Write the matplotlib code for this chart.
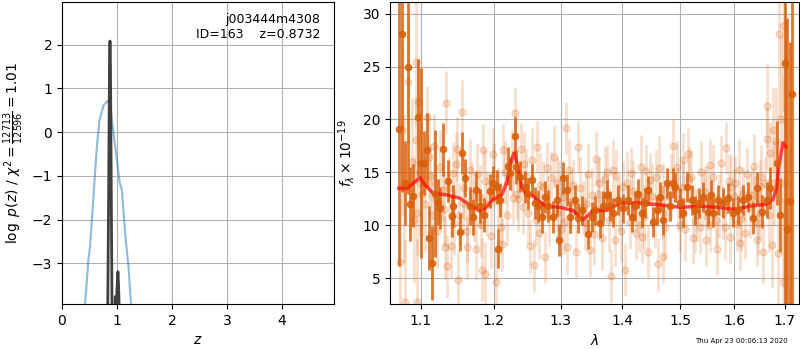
import numpy as np
import matplotlib
matplotlib.use('Agg')
import matplotlib.pyplot as plt
from matplotlib.ticker import NullLocator, FixedLocator

# p(z) panel
z_chi2 = [0.38, 0.42, 0.48, 0.51, 0.572, 0.634, 0.682, 0.755, 0.828, 0.877,
          0.938, 1.0, 1.048, 1.09, 1.15, 1.21, 1.256, 1.29]
logp_chi2 = [-4.8, -3.93, -2.92, -2.62, -1.48, -0.34, 0.27, 0.61, 0.71, 0.61,
             -0.03, -0.64, -1.14, -1.33, -2.32, -3.08, -3.93, -4.8]

z_pz = [0.78, 0.83, 0.852, 0.864, 0.8732, 0.882, 0.894, 0.92, 0.955, 0.97,
        0.985, 1.0, 1.018, 1.03, 1.05, 1.08]
logp_pz = [-6.0, -4.5, -0.8, 1.5, 2.08, 1.5, -0.8, -6.0, -4.5, -3.76,
           -4.2, -3.6, -3.19, -3.5, -4.6, -6.0]

# spectrum panel: binned points (dark)
wave_a = [1.071, 1.079, 1.083, 1.086, 1.090, 1.096, 1.104, 1.108, 1.111, 1.115,
          1.123, 1.125, 1.129, 1.136, 1.141, 1.143, 1.153, 1.155, 1.160, 1.166,
          1.171, 1.175, 1.180, 1.186, 1.195, 1.199, 1.205, 1.206, 1.209, 1.221,
          1.2235, 1.231, 1.232, 1.238, 1.246, 1.250, 1.256, 1.261, 1.265, 1.271,
          1.276, 1.280, 1.288, 1.294, 1.297, 1.304, 1.310, 1.315, 1.322, 1.327,
          1.334, 1.343, 1.350, 1.355, 1.363, 1.368, 1.374, 1.380, 1.384, 1.392,
          1.401, 1.409, 1.416, 1.421, 1.426, 1.433, 1.438, 1.443, 1.452, 1.459,
          1.464, 1.469, 1.476, 1.482, 1.487, 1.491, 1.499, 1.505, 1.512, 1.521,
          1.527, 1.534, 1.541, 1.551, 1.556, 1.560, 1.569, 1.579, 1.588, 1.598,
          1.607, 1.617, 1.627, 1.636, 1.644, 1.654, 1.664, 1.670, 1.684, 1.690,
          1.700, 1.704, 1.710, 1.7145, 1.075, 1.100, 1.118]
flux_a = [19.1, 14.0, 25.0, 12.0, 12.8, 20.2, 15.9, 17.1, 8.8, 6.4,
          12.2, 11.6, 17.2, 14.2, 10.9, 11.8, 9.4, 16.8, 14.5, 11.8,
          10.8, 13.3, 11.8, 11.0, 13.2, 14.0, 13.6, 7.8, 12.4, 15.6,
          14.9, 18.4, 15.5, 14.6, 13.6, 13.0, 14.3, 12.1, 11.8, 10.8,
          12.7, 11.8, 10.8, 12.4, 8.6, 14.5, 13.3, 10.8, 12.4, 10.7,
          11.4, 9.2, 10.8, 11.4, 10.2, 11.8, 12.9, 11.8, 11.2, 12.4,
          11.6, 12.4, 10.8, 11.8, 13.0, 11.2, 12.1, 13.3, 10.3, 11.4,
          12.7, 10.5, 14.0, 11.8, 14.0, 13.6, 12.1, 11.2, 13.6, 12.4,
          11.4, 12.1, 12.7, 11.3, 12.9, 11.2, 12.4, 12.1, 12.6, 11.2,
          11.4, 12.4, 12.7, 10.7, 13.5, 11.3, 12.4, 13.5, 15.9, 11.0,
          25.3, 9.6, 12.3, 22.4, 28.1, 15.9, 13.0]
err_a = [13.0, 4.0, 12.0, 3.5, 3.0, 5.5, 3.0, 3.5, 3.0, 3.5,
         2.2, 2.0, 2.5, 2.0, 2.0, 2.0, 1.8, 2.0, 1.8, 1.8,
         1.7, 1.7, 1.6, 1.6, 1.6, 1.6, 1.6, 1.8, 1.6, 1.8,
         1.6, 1.8, 1.6, 1.5, 1.5, 1.5, 1.5, 1.5, 1.5, 1.5,
         1.5, 1.5, 1.5, 1.5, 1.5, 1.5, 1.5, 1.5, 1.4, 1.4,
         1.4, 1.4, 1.4, 1.4, 1.4, 1.4, 1.4, 1.4, 1.4, 1.4,
         1.4, 1.4, 1.4, 1.4, 1.4, 1.4, 1.4, 1.4, 1.4, 1.4,
         1.4, 1.4, 1.4, 1.4, 1.4, 1.4, 1.4, 1.4, 1.4, 1.4,
         1.4, 1.4, 1.4, 1.4, 1.4, 1.4, 1.4, 1.4, 1.4, 1.4,
         1.4, 1.4, 1.4, 1.5, 1.5, 1.6, 1.7, 2.0, 4.0, 3.5,
         25.0, 20.0, 15.0, 20.0, 15.0, 9.0, 6.0]

# spectrum panel: unbinned points (light)
wave_b = [1.073, 1.083, 1.093, 1.079, 1.095, 1.096, 1.108, 1.093, 1.117, 1.133,
          1.135, 1.132, 1.150, 1.155, 1.149, 1.162, 1.175, 1.184, 1.188, 1.203,
          1.185, 1.199, 1.212, 1.210, 1.231, 1.213, 1.228, 1.240, 1.253, 1.259,
          1.264, 1.267, 1.276, 1.279, 1.294, 1.310, 1.308, 1.325, 1.327, 1.338,
          1.346, 1.356, 1.374, 1.381, 1.387, 1.390, 1.404, 1.412, 1.423, 1.434,
          1.443, 1.447, 1.457, 1.461, 1.469, 1.487, 1.494, 1.505, 1.514, 1.523,
          1.536, 1.547, 1.554, 1.567, 1.576, 1.584, 1.592, 1.601, 1.611, 1.621,
          1.634, 1.644, 1.656, 1.664, 1.670, 1.676, 1.665, 1.688, 1.696, 1.697,
          1.686, 1.674, 1.273, 1.304, 1.335, 1.368, 1.401, 1.434, 1.469, 1.505,
          1.541, 1.579, 1.617, 1.650, 1.129, 1.157, 1.180, 1.095, 1.112, 1.143,
          1.243, 1.234, 1.294, 1.285, 1.320, 1.350, 1.395, 1.415, 1.440, 1.455,
          1.478, 1.500, 1.520, 1.545, 1.565, 1.590, 1.605, 1.625, 1.640, 1.660,
          1.188, 1.170, 1.145, 1.120, 1.102, 1.248, 1.262, 1.300, 1.362, 1.428,
          1.470, 1.530, 1.555, 1.600, 1.650,
          1.075, 1.078, 1.088, 1.091, 1.099, 1.106, 1.110, 1.114, 1.118, 1.122,
          1.126, 1.131, 1.138, 1.140, 1.147, 1.151, 1.158, 1.163, 1.166, 1.172,
          1.177, 1.182, 1.191, 1.196, 1.201, 1.206, 1.216, 1.219, 1.226, 1.236,
          1.245, 1.251, 1.256, 1.269, 1.282, 1.290, 1.297, 1.306, 1.313, 1.317,
          1.330, 1.341, 1.344, 1.353, 1.359, 1.366, 1.371, 1.378, 1.384, 1.398,
          1.407, 1.418, 1.431, 1.437, 1.450, 1.462, 1.474, 1.484, 1.497, 1.509,
          1.516, 1.527, 1.538, 1.550, 1.560, 1.572, 1.583, 1.595, 1.609, 1.614,
          1.631, 1.638, 1.647, 1.653, 1.668, 1.679, 1.682, 1.692, 1.699]
flux_b = [6.5, 23.5, 25.4, 2.7, 2.7, 21.7, 20.2, 18.1, 17.5, 21.6,
          6.1, 7.9, 4.8, 20.7, 17.2, 7.9, 7.8, 5.8, 5.4, 4.6,
          17.1, 16.7, 8.2, 9.8, 20.6, 17.1, 12.6, 17.2, 8.0, 6.2,
          17.4, 9.3, 7.0, 15.4, 14.0, 7.9, 19.2, 7.5, 17.4, 10.2,
          7.7, 16.3, 15.0, 5.2, 8.6, 14.7, 5.8, 10.3, 9.3, 8.9,
          7.5, 14.3, 14.6, 6.3, 7.0, 17.5, 15.5, 16.2, 16.7, 8.8,
          9.8, 8.6, 15.7, 7.8, 15.9, 17.3, 8.9, 14.0, 8.3, 9.3,
          12.9, 8.6, 7.5, 18.2, 16.8, 19.0, 21.3, 28.1, 28.8, 4.6,
          7.4, 8.1, 13.6, 12.7, 11.7, 12.4, 13.6, 12.4, 11.2, 13.6,
          12.4, 11.2, 13.0, 11.2, 13.3, 12.1, 12.7, 11.2, 14.7, 14.9,
          11.7, 13.0, 11.2, 14.5, 13.8, 12.9, 12.0, 14.9, 15.1, 10.4,
          12.8, 10.0, 14.6, 13.1, 10.5, 14.2, 10.1, 14.8, 12.2, 14.0,
          14.2, 13.0, 10.2, 12.5, 13.0, 14.7, 10.5, 9.6, 14.0, 10.0,
          13.4, 11.0, 10.0, 12.8, 13.7,
          19.0, 13.5, 16.0, 10.5, 14.0, 12.0, 16.5, 11.0, 14.0, 9.5,
          15.5, 11.5, 13.5, 8.0, 15.8, 11.0, 13.5, 9.5, 15.2, 11.5,
          14.8, 10.0, 12.0, 9.0, 14.8, 12.5, 15.0, 11.0, 16.0, 12.5,
          15.8, 11.2, 16.2, 13.8, 11.0, 16.5, 13.2, 10.3, 15.2, 12.2,
          13.5, 12.0, 14.8, 9.2, 13.0, 8.8, 14.4, 10.5, 15.2, 9.5,
          14.0, 13.2, 15.5, 10.8, 12.8, 15.4, 9.8, 13.8, 12.5, 9.6,
          14.4, 10.4, 15.0, 12.6, 14.6, 11.8, 9.8, 13.6, 15.2, 10.6,
          11.8, 15.6, 10.2, 14.6, 11.0, 14.0, 18.0, 20.0, 14.0]
err_b = [6.0, 6.0, 6.0, 6.0, 6.0, 4.0, 3.0, 4.0, 3.0, 3.0,
         3.0, 3.0, 3.0, 3.0, 3.0, 3.0, 3.0, 3.0, 3.0, 3.0,
         2.5, 2.5, 2.5, 2.5, 2.5, 2.5, 2.5, 2.5, 2.5, 2.5,
         2.5, 2.5, 2.5, 2.5, 2.5, 2.5, 2.5, 2.5, 2.5, 2.5,
         2.5, 2.5, 2.5, 2.5, 2.5, 2.5, 2.5, 2.5, 2.5, 2.5,
         2.5, 2.5, 2.5, 2.5, 2.5, 2.5, 2.5, 2.5, 2.5, 2.5,
         2.5, 2.5, 2.5, 2.5, 2.5, 2.5, 2.5, 2.5, 2.5, 2.5,
         2.5, 2.5, 3.0, 3.0, 3.0, 4.0, 4.0, 8.0, 8.0, 8.0,
         5.0, 4.0, 2.5, 2.5, 2.5, 2.5, 2.5, 2.5, 2.5, 2.5,
         2.5, 2.5, 2.5, 2.5, 3.0, 3.0, 3.0, 4.0, 3.0, 3.0,
         2.5, 2.5, 2.5, 2.5, 2.5, 2.5, 2.5, 2.5, 2.5, 2.5,
         2.5, 2.5, 2.5, 2.5, 2.5, 2.5, 2.5, 2.5, 2.5, 2.5,
         3.0, 3.0, 3.0, 3.0, 4.0, 2.5, 2.5, 2.5, 2.5, 2.5,
         2.5, 2.5, 2.5, 2.5, 2.5,
         8.0, 7.0, 6.0, 6.0, 5.0, 4.5, 4.0, 4.0, 3.5, 3.5,
         3.5, 3.5, 3.0, 3.0, 3.0, 3.0, 3.0, 3.0, 3.0, 3.0,
         3.0, 3.0, 3.0, 3.0, 3.0, 3.0, 3.0, 3.0, 3.0, 3.0,
         3.0, 3.0, 3.0, 3.0, 3.0, 3.0, 3.0, 3.0, 3.0, 3.0,
         3.0, 3.0, 3.0, 3.0, 3.0, 3.0, 3.0, 3.0, 3.0, 3.0,
         3.0, 3.0, 3.0, 3.0, 3.0, 3.0, 3.0, 3.0, 3.0, 3.0,
         3.0, 3.0, 3.0, 3.0, 3.0, 3.0, 3.0, 3.0, 3.0, 3.0,
         3.0, 3.0, 3.0, 3.0, 3.5, 4.0, 5.0, 8.0, 10.0]

# best-fit model
wave_m = [1.0714, 1.0817, 1.0921, 1.0987, 1.1053, 1.1159, 1.1347, 1.1526, 1.1664, 1.1804,
          1.1875, 1.1989, 1.2118, 1.2190, 1.2249, 1.2294, 1.2338, 1.2412, 1.2487, 1.2561,
          1.2637, 1.2774, 1.2989, 1.3192, 1.3303, 1.3351, 1.3431, 1.3512, 1.3740, 1.3957,
          1.4294, 1.4692, 1.4993, 1.5357, 1.5690, 1.5994, 1.6305, 1.6640, 1.6761, 1.6841,
          1.6881, 1.6962, 1.7023]
flux_m = [13.5, 13.5, 14.1, 14.5, 13.8, 13.05, 12.86, 12.55, 11.9, 11.35,
          11.6, 12.4, 12.86, 14.1, 15.9, 16.84, 15.9, 13.6, 12.86, 12.86,
          12.4, 11.8, 11.7, 11.4, 10.8, 10.5, 10.9, 11.4, 11.4, 12.1,
          12.1, 11.9, 11.7, 11.8, 11.7, 11.5, 11.8, 12.0, 12.4, 13.6,
          15.5, 17.8, 17.4]

wave_ticks = [1.1, 1.2, 1.3, 1.4, 1.5, 1.6, 1.7]

orange = '#d9600b'

fig = plt.figure(figsize=(8, 3.5), dpi=100)
ax1 = fig.add_axes([0.0775, 0.131, 0.34, 0.863])
ax2 = fig.add_axes([0.4875, 0.131, 0.511, 0.863])

ax1.plot(z_chi2, logp_chi2, color='tab:blue', alpha=0.5, lw=1.5)
ax1.plot(z_pz, logp_pz, color='0.25', lw=2)
ax1.set_xlim(0, 4.95)
ax1.set_ylim(-3.93, 2.97)
ax1.set_xlabel(r'$z$')
ax1.set_ylabel(r'$\log\ p(z)$' + ' / ' + r'$\chi^2=\frac{12713}{12596}=1.01$')
ax1.grid()
ax1.text(0.95, 0.965, 'j003444m4308\nID=163    z=0.8732', transform=ax1.transAxes,
         ha='right', va='top', fontsize=9)

ax2.errorbar(wave_b, flux_b, err_b, marker='o', ms=5, linestyle='none',
             color=orange, alpha=0.2, lw=2)
ax2.errorbar(wave_a, flux_a, err_a, marker='o', ms=4.5, linestyle='none',
             color=orange, alpha=0.85, lw=2)
ax2.plot(wave_m, flux_m, color='red', alpha=0.7, lw=2.5)
ax2.set_xscale('log')
ax2.xaxis.set_major_locator(FixedLocator(wave_ticks))
ax2.xaxis.set_minor_locator(NullLocator())
ax2.set_xticklabels([f'{t:.1f}' for t in wave_ticks])
ax2.set_xlim(1.060, 1.729)
ax2.set_ylim(2.54, 31.1)
ax2.set_xlabel(r'$\lambda$')
ax2.set_ylabel(r'$f_\lambda\times10^{-19}$')
ax2.grid()

fig.text(0.984, 0.02, 'Thu Apr 23 00:06:13 2020', ha='right', fontsize=5)

fig.savefig('out.png', dpi=100)
